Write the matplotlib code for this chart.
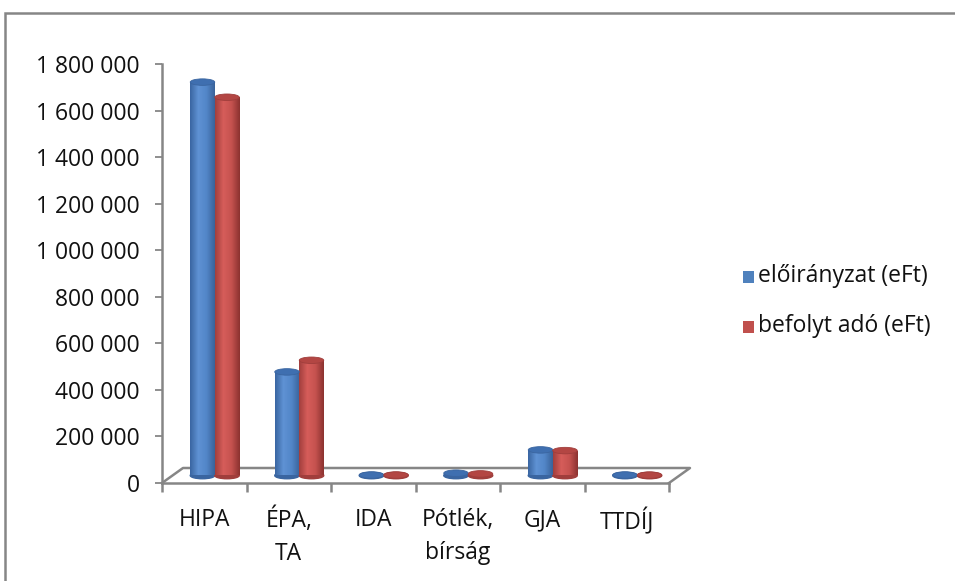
import numpy as np
import matplotlib.pyplot as plt
from matplotlib.patches import Ellipse, Rectangle
from matplotlib.colors import LinearSegmentedColormap
from matplotlib.ticker import FuncFormatter

# adatok
kategoriak = ["HIPA", "ÉPA,\nTA", "IDA", "Pótlék,\nbírság", "GJA", "TTDÍJ"]
eloiranyzat = [1690000, 445000, 2000, 10000, 110000, 2000]
befolyt_ado = [1625000, 495000, 2000, 7000, 107000, 1500]
sorozat_nevek = ["előirányzat (eFt)", "befolyt adó (eFt)"]
y_tickek = np.arange(0, 1800001, 200000)

plt.rcParams['font.family'] = ['Open Sans', 'DejaVu Sans']
BETU = 16.5
SZOVEG = '#111111'

W, H = 955, 581
fig = plt.figure(figsize=(W / 100, H / 100), dpi=100)
ax = fig.add_axes([162 / W, 1 - 483 / H, (669 - 162) / W, (483 - 64) / H])
XMIN, XMAX, YMAX = -0.5, 5.5, 1800000
ax.set_xlim(XMIN, XMAX)
ax.set_ylim(0, YMAX)

# pixel -> adat átváltás
px_x = (XMAX - XMIN) / (669 - 162)
px_y = YMAX / (483 - 64)

szurke = '#868686'
for s in ['top', 'right']:
    ax.spines[s].set_visible(False)
for s in ['left', 'bottom']:
    ax.spines[s].set_color(szurke)
    ax.spines[s].set_linewidth(1.8)

# padló (3D hatás)
dx, dy = 21 * px_x, 15 * px_y
ax.plot([XMIN, XMIN + dx, XMAX + dx, XMAX], [0, dy, dy, 0],
        color=szurke, lw=1.8, clip_on=False, zorder=1)

# hengerek
szinek = [
    (['#3a66a2', '#5f92d4', '#5286c8', '#3a639a'], '#3f6fb0', '#3a65a0'),
    (['#a23f3d', '#d65d5a', '#c5524f', '#8c3230'], '#b34643', '#a03e3c'),
]
szelesseg = 24.5 * px_x
alap = 7.5 * px_y
ell_h = 6.5 * px_y
eltolas = 10.5 * px_x
grad = np.linspace(0, 1, 64).reshape(1, -1)

for j, ertekek in enumerate([eloiranyzat, befolyt_ado]):
    cm = LinearSegmentedColormap.from_list('c%d' % j, szinek[j][0])
    for i, v in enumerate(ertekek):
        xc = i + eltolas + (j - 0.5) * szelesseg
        x0, x1 = xc - szelesseg / 2, xc + szelesseg / 2
        teteje = alap + v
        ax.add_patch(Ellipse((xc, alap), szelesseg, ell_h,
                             color=szinek[j][2], zorder=3))
        if v > ell_h / 2:
            rect = Rectangle((x0, alap), szelesseg, v, transform=ax.transData,
                             facecolor='none', edgecolor='none')
            ax.add_patch(rect)
            im = ax.imshow(grad, extent=[x0, x1, alap, teteje], aspect='auto',
                           cmap=cm, zorder=4)
            im.set_clip_path(rect)
        ax.add_patch(Ellipse((xc, teteje), szelesseg, ell_h,
                             facecolor=szinek[j][1], edgecolor=szinek[j][2],
                             lw=0.6, zorder=5))

ax.set_xlim(XMIN, XMAX)
ax.set_ylim(0, YMAX)

# tengelyek
ax.set_yticks(y_tickek)
ax.yaxis.set_major_formatter(FuncFormatter(lambda v, p: f"{int(v):,}".replace(",", " ")))
ax.tick_params(axis='y', direction='out', length=5, width=1.3, color=szurke,
               pad=11, labelsize=BETU, labelcolor=SZOVEG)

ax.set_xticks(np.arange(len(kategoriak)))
ax.set_xticklabels(kategoriak, linespacing=1.5)
ax.set_xticks(np.arange(len(kategoriak) + 1) - 0.5, minor=True)
ax.tick_params(axis='x', which='major', length=0, pad=18, labelsize=BETU,
               labelcolor=SZOVEG)
ax.tick_params(axis='x', which='minor', direction='out', length=6.5,
               width=1.8, color=szurke)

# jelmagyarázat
for k, nev in enumerate(sorozat_nevek):
    yk = 277 + k * 50
    fig.add_artist(Rectangle((743 / W, 1 - (yk + 6) / H), 11 / W, 12 / H,
                             transform=fig.transFigure,
                             facecolor=['#4f81bd', '#c0504d'][k], edgecolor='none'))
    fig.text(758 / W, 1 - (yk - 1) / H, nev, fontsize=BETU, va='center', ha='left',
             color=SZOVEG)

# keret
fig.add_artist(Rectangle((4.5 / W, -0.1), 1.2, 1.1 - 13 / H,
                         transform=fig.transFigure, facecolor='none',
                         edgecolor=szurke, lw=1.8, clip_on=False))

fig.savefig('out.png', dpi=100)
